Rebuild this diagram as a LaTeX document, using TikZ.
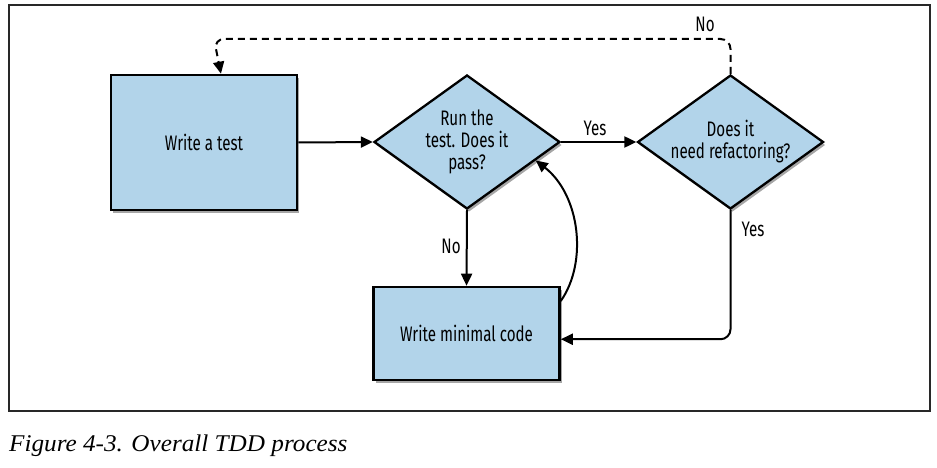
\documentclass[tikz,border=0pt]{standalone}
\usepackage{fontspec}
\setmainfont{Liberation Serif}
\newfontfamily\condsans[FakeStretch=0.72]{Fira Sans}
\newfontfamily\capfont[FakeStretch=1.05]{Liberation Serif}
\usetikzlibrary{shapes.geometric,shadows,arrows.meta,calc}
\definecolor{boxblue}{RGB}{178,212,234}
\definecolor{framegray}{RGB}{40,40,40}
\tikzset{
  stepbox/.style={draw=black, line width=2.6pt, fill=boxblue, rectangle, inner sep=0pt,
    font=\condsans\fontsize{21}{22}\selectfont, align=center,
    drop shadow={shadow xshift=2pt, shadow yshift=-3pt, opacity=0.35, fill=black}},
  decision/.style={draw=black, line width=2.3pt, fill=boxblue, diamond, inner sep=0pt,
    minimum width=186pt, minimum height=134pt,
    drop shadow={shadow xshift=2pt, shadow yshift=-3pt, opacity=0.35, fill=black}},
  dtext/.style={font=\condsans\fontsize{21}{22}\selectfont, align=center, inner sep=0pt},
  flow/.style={line width=2pt, -{Triangle[length=12pt,width=11pt]}},
  lbl/.style={font=\condsans\fontsize{21}{22}\selectfont, inner sep=0pt},
}
\begin{document}
\begin{tikzpicture}[x=1pt,y=-1pt]
\useasboundingbox (0,0) rectangle (937,468);
\draw[framegray, line width=1.2pt] (9,5) rectangle (930,411);

\node[stepbox, minimum width=186pt, minimum height=135pt] (b1) at (204,142.5) {Write a test};
\node[decision] (d1) at (467,142) {};
\node[dtext] (d1t) at (d1.center) {Run the\\test. Does it\\pass?};
\node[decision] (d2) at (730.5,142) {};
\node[dtext] (d2t) at (d2.center) {Does it\\need refactoring?};
\node[stepbox, minimum width=186pt, minimum height=93pt] (b2) at (466.5,333.5) {Write minimal code};

\draw[flow] (b1.east) -- (d1.west);
\draw[flow] (d1.east) -- (d2.west);
\draw[flow] (d1.south) -- (b2.north);
\draw[flow, rounded corners=10pt] (d2.south) |- ($(b2.north east)!0.56!(b2.south east)$) coordinate (b2in);

\coordinate (curvestart) at ($(b2.north east)!0.16!(b2.south east)$);
\coordinate (curveend) at ($(d1.east)!0.27!(d1.south)$);
\draw[flow] (curvestart) .. controls (588,262) and (580,195) .. (curveend);

\coordinate (dashcornerR) at (730.5,39);
\coordinate (dashcornerL) at (214,39);
\coordinate (b1in) at ($(b1.north west)!0.59!(b1.north east)$);
\draw[line width=2pt, dash pattern=on 7pt off 5pt, rounded corners=10pt,
  -{Triangle[length=12pt,width=11pt]}]
  (d2.north) -- (dashcornerR) -- (dashcornerL) -- (b1in);

\node[lbl] (lno1) at (705,24) {No};
\node[lbl] (lyes1) at (595,128) {Yes};
\node[lbl] (lno2) at (451,246) {No};
\node[lbl] (lyes2) at (753,229) {Yes};

\node[anchor=base west, inner sep=0pt, font=\capfont\itshape\fontsize{24}{26}\selectfont] (cap) at (9,451) {Figure 4-3. Overall TDD process};
\end{tikzpicture}
\end{document}
